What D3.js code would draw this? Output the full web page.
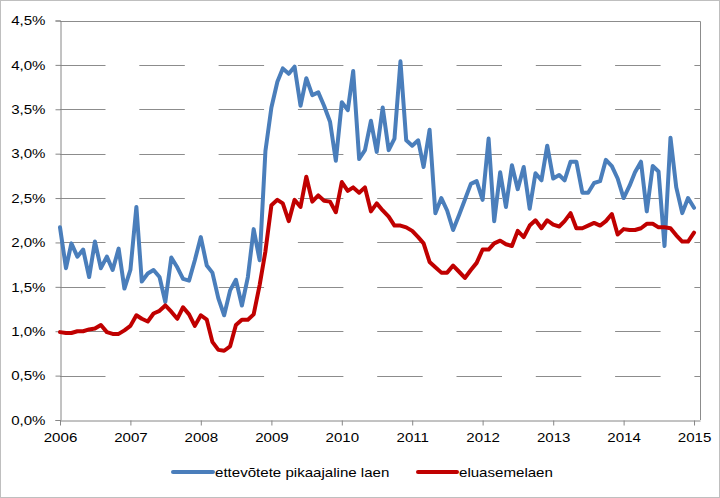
<!DOCTYPE html>
<html>
<head>
<meta charset="utf-8">
<script src="https://cdn.jsdelivr.net/npm/d3@7"></script>
<style>
  html, body { margin: 0; padding: 0; background: #fff; }
  svg { display: block; font-family: "Liberation Sans", Arial, sans-serif; }
</style>
</head>
<body>
<svg id="chart" width="720" height="498"></svg>
<script>
// ---- data ----
const startYear = 2006;
const startMonth = 0; // January 2006, monthly observations
const seriesNames = ["ettevõtete pikaajaline laen", "eluasemelaen"];
const seriesColors = ["#4A7EBB", "#C00000"];
const ettevotted = [
  2.17, 1.71, 1.99, 1.84, 1.92, 1.61, 2.01, 1.71, 1.84, 1.69, 1.93, 1.48,
  1.69, 2.40, 1.56, 1.65, 1.69, 1.61, 1.33, 1.83, 1.72, 1.59, 1.57, 1.80,
  2.06, 1.74, 1.66, 1.37, 1.18, 1.46, 1.58, 1.29, 1.61, 2.15, 1.80, 3.03,
  3.52, 3.81, 3.96, 3.90, 3.98, 3.54, 3.85, 3.66, 3.69, 3.54, 3.36, 2.92,
  3.58, 3.49, 3.93, 2.94, 3.04, 3.37, 3.02, 3.52, 3.04, 3.17, 4.04, 3.15,
  3.09, 3.15, 2.85, 3.27, 2.33, 2.50, 2.36, 2.14, 2.31, 2.48, 2.66, 2.69,
  2.48, 3.17, 2.24, 2.79, 2.40, 2.87, 2.60, 2.85, 2.38, 2.78, 2.70, 3.09,
  2.72, 2.76, 2.70, 2.91, 2.91, 2.56, 2.56, 2.67, 2.69, 2.93, 2.86, 2.72,
  2.50, 2.64, 2.79, 2.91, 2.35, 2.86, 2.80, 1.96, 3.18, 2.62, 2.33, 2.50,
  2.39
];
const eluase = [
  0.99, 0.98, 0.98, 1.00, 1.00, 1.02, 1.03, 1.07, 0.99, 0.97, 0.97, 1.01,
  1.06, 1.18, 1.14, 1.11, 1.20, 1.23, 1.29, 1.22, 1.14, 1.27, 1.19, 1.06,
  1.18, 1.13, 0.88, 0.79, 0.78, 0.83, 1.07, 1.13, 1.13, 1.19, 1.52, 1.90,
  2.42, 2.48, 2.44, 2.24, 2.48, 2.40, 2.74, 2.46, 2.53, 2.47, 2.46, 2.34,
  2.68, 2.58, 2.62, 2.56, 2.62, 2.35, 2.44, 2.36, 2.29, 2.19, 2.19, 2.17,
  2.13, 2.06, 1.99, 1.78, 1.72, 1.66, 1.66, 1.74, 1.67, 1.60, 1.69, 1.77,
  1.92, 1.92, 1.99, 2.02, 1.98, 1.96, 2.13, 2.06, 2.19, 2.25, 2.16, 2.25,
  2.20, 2.18, 2.24, 2.33, 2.16, 2.16, 2.19, 2.22, 2.19, 2.24, 2.32, 2.09,
  2.15, 2.14, 2.14, 2.16, 2.21, 2.21, 2.17, 2.17, 2.16, 2.08, 2.01, 2.01,
  2.11
];
const yTicks = [0, 0.5, 1.0, 1.5, 2.0, 2.5, 3.0, 3.5, 4.0, 4.5];
const xTickYears = [2006, 2007, 2008, 2009, 2010, 2011, 2012, 2013, 2014, 2015];

// ---- layout ----
const svg = d3.select("#chart");
const W = 720, H = 498;
const L = 60, R = 700, T = 20.5, B = 420;
const STRETCH = 1.16; // reference text is horizontally widened

const dates = ettevotted.map((_, i) => new Date(Date.UTC(startYear, startMonth + i, 1)));

const x = d3.scaleUtc()
  .domain([new Date(Date.UTC(2006, 0, 1)), new Date(Date.UTC(2015, 1, 1))])
  .range([L, R]);
const y = d3.scaleLinear().domain([0, 4.5]).range([B, T]);

const fmt = v => d3.format(".1f")(v).replace(".", ",") + "%";

function stretch(sel) {
  sel.each(function () {
    const w = this.getComputedTextLength();
    d3.select(this).attr("textLength", w * STRETCH).attr("lengthAdjust", "spacingAndGlyphs");
  });
}

// outer border
svg.append("rect").attr("x", 0.5).attr("y", 0.5).attr("width", W - 1).attr("height", H - 1)
  .attr("fill", "#fff").attr("stroke", "#bfbfbf").attr("stroke-width", 1);

// gridlines (dashed)
svg.append("g").selectAll("line")
  .data(yTicks.filter(v => v > 0 && v < 4.5))
  .join("line")
  .attr("x1", L).attr("x2", R)
  .attr("y1", d => Math.round(y(d)) + 0.5).attr("y2", d => Math.round(y(d)) + 0.5)
  .attr("stroke", "#8c8c8c").attr("stroke-width", 1)
  .attr("stroke-dasharray", "45.5 33.8");

// plot border top & right
svg.append("path")
  .attr("d", `M${L},${Math.round(T) + 0.5}H${R + 0.5}V${B}`)
  .attr("fill", "none").attr("stroke", "#8c8c8c").attr("stroke-width", 1);

// y axis
const yAxis = d3.axisLeft(y).tickValues(yTicks).tickFormat(fmt).tickSize(5).tickPadding(10);
const gy = svg.append("g").attr("transform", `translate(${L + 0.5},0)`).call(yAxis);
gy.select(".domain").attr("stroke", "#868686");
gy.selectAll(".tick line").attr("stroke", "#868686");
gy.selectAll(".tick text").attr("font-size", 13).attr("fill", "#000")
  .attr("font-family", "'Liberation Sans', Arial, sans-serif").call(stretch);

// x axis
const xAxis = d3.axisBottom(x)
  .tickValues(xTickYears.map(yr => new Date(Date.UTC(yr, 0, 1))))
  .tickFormat(d3.utcFormat("%Y")).tickSize(5).tickSizeOuter(0).tickPadding(7);
const gx = svg.append("g").attr("transform", `translate(0,${B + 0.5})`).call(xAxis);
gx.select(".domain").attr("stroke", "#868686");
gx.selectAll(".tick line").attr("stroke", "#868686");
gx.selectAll(".tick text").attr("font-size", 13).attr("fill", "#000")
  .attr("font-family", "'Liberation Sans', Arial, sans-serif").call(stretch);

// lines
const line = d3.line().x((d, i) => x(dates[i])).y(d => y(d));
[ettevotted, eluase].forEach((s, k) => {
  svg.append("path").datum(s)
    .attr("d", line)
    .attr("fill", "none")
    .attr("stroke", seriesColors[k])
    .attr("stroke-width", 4)
    .attr("stroke-linejoin", "round")
    .attr("stroke-linecap", "round");
});

// legend
const legendItems = [
  { name: seriesNames[0], color: seriesColors[0], x0: 173, x1: 213 },
  { name: seriesNames[1], color: seriesColors[1], x0: 418, x1: 457 }
];
const lg = svg.append("g");
legendItems.forEach(it => {
  lg.append("line").attr("x1", it.x0).attr("x2", it.x1).attr("y1", 472).attr("y2", 472)
    .attr("stroke", it.color).attr("stroke-width", 4).attr("stroke-linecap", "round");
  lg.append("text").attr("x", it.x1 + 2).attr("y", 477)
    .attr("font-size", 13).attr("fill", "#000").text(it.name).call(stretch);
});
</script>
</body>
</html>
